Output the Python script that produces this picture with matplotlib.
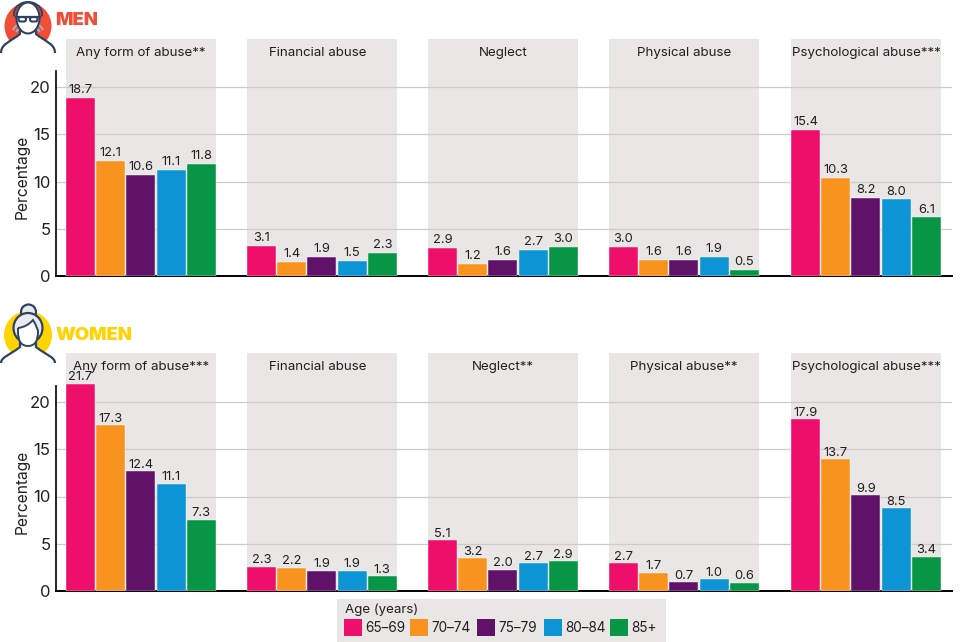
import matplotlib
matplotlib.use('Agg')
import matplotlib.pyplot as plt
from matplotlib.patches import Circle, Rectangle, FancyBboxPatch, Ellipse, Arc, PathPatch
from matplotlib.path import Path

plt.rcParams['font.family'] = ['Inter', 'DejaVu Sans']

ages = ['65–69', '70–74', '75–79', '80–84', '85+']
colors = ['#EE0F6B', '#F8931F', '#5F1268', '#0C94D4', '#079645']
men_titles = ['Any form of abuse**', 'Financial abuse', 'Neglect', 'Physical abuse', 'Psychological abuse***']
women_titles = ['Any form of abuse***', 'Financial abuse', 'Neglect**', 'Physical abuse**', 'Psychological abuse***']
men_vals = [[18.7, 12.1, 10.6, 11.1, 11.8],
            [3.1, 1.4, 1.9, 1.5, 2.3],
            [2.9, 1.2, 1.6, 2.7, 3.0],
            [3.0, 1.6, 1.6, 1.9, 0.5],
            [15.4, 10.3, 8.2, 8.0, 6.1]]
women_vals = [[21.7, 17.3, 12.4, 11.1, 7.3],
              [2.3, 2.2, 1.9, 1.9, 1.3],
              [5.1, 3.2, 2.0, 2.7, 2.9],
              [2.7, 1.7, 0.7, 1.0, 0.6],
              [17.9, 13.7, 9.9, 8.5, 3.4]]

W, H = 962, 642
GREY = '#E8E7E6'
NAVY = '#2F4260'
TXT = '#231F20'
starts = [66, 247, 428, 609, 791]
title_x = [75, 71, 75, 75, 75]
pitch = 30.2
ppu = 9.45

fig = plt.figure(figsize=(W / 100, H / 100), dpi=100)


def panel(titles, vals, y0, top, lift):
    # axes run in screen pixels on x so the panel bands line up
    ax = fig.add_axes([56 / W, (642 - y0) / H, (952 - 56) / W, (y0 - top) / H])
    ax.set_xlim(56, 952)
    ax.set_ylim(0, (y0 - top) / ppu)
    for s, dx, t, v in zip(starts, title_x, titles, vals):
        ax.axvspan(s, s + 150.5, color=GREY, lw=0, zorder=0)
        ax.text(s + dx, (y0 - top - 14) / ppu, t, ha='center', va='center',
                fontsize=9.6, color=TXT, zorder=5)
        for i, val in enumerate(v):
            x = s + i * pitch
            ax.bar(x, val + lift, width=29, align='edge', color=colors[i], zorder=3,
                   edgecolor='white', linewidth=0.3)
            ax.text(x + 14.5, val + 0.3, f'{val:.1f}', ha='center', va='bottom',
                    fontsize=9.3, color=TXT, zorder=5)
    ax.set_yticks([0, 5, 10, 15, 20])
    ax.set_yticklabels(['0', '5', '10', '15', '20'], fontsize=12, color=TXT)
    ax.set_xticks([])
    for y in [5, 10, 15, 20]:
        ax.axhline(y, color='#CDCCCA', lw=0.9, zorder=1)
    ax.tick_params(axis='y', length=0, pad=4)
    ax.patch.set_alpha(0)
    for sp in ['top', 'right']:
        ax.spines[sp].set_visible(False)
    ax.spines['left'].set_linewidth(1.2)
    ax.spines['left'].set_bounds(0, 21.7)
    ax.spines['bottom'].set_linewidth(1.4)
    ax.set_ylabel('Percentage', fontsize=11.2, color=TXT)
    ax.yaxis.set_label_coords(-0.0295, 99 / (y0 - top))
    return ax


panel(men_titles, men_vals, 276, 39, 0.1)
panel(women_titles, women_vals, 591, 353, 0.25)

# overlay in pixel coordinates for icons, headings, legend
ov = fig.add_axes([0, 0, 1, 1], zorder=10)
ov.set_xlim(0, W)
ov.set_ylim(H, 0)
ov.axis('off')


def bust(neck_top, shoulder, bottom):
    # white body with neck, hides the lower part of the disc
    p = Path([(1, bottom), (1, shoulder), (10, shoulder - 2), (20, neck_top + 4),
              (20, neck_top), (36, neck_top), (36, neck_top + 4),
              (46, shoulder - 2), (55, shoulder), (55, bottom)],
             [Path.MOVETO, Path.CURVE4, Path.CURVE4, Path.CURVE4,
              Path.LINETO, Path.LINETO, Path.LINETO,
              Path.CURVE4, Path.CURVE4, Path.CURVE4])
    ov.add_patch(PathPatch(p, fc='white', ec='none', zorder=2))
    ov.add_patch(Rectangle((1, bottom - 3), 54, 8, fc='white', ec='none', zorder=2))
    ov.add_patch(PathPatch(p, fc='none', ec=NAVY, lw=1.6, zorder=3))


# man
ov.add_patch(Circle((28, 26), 23.5, fc='#F04E37', ec='none', zorder=1))
bust(30, 44, 53)
ov.add_patch(Arc((28, 34), 24, 16, theta1=10, theta2=170, angle=180, ec='#A9AFBB', lw=1.5, zorder=4))
ov.add_patch(Arc((28, 34), 32, 24, theta1=15, theta2=165, angle=180, ec='#A9AFBB', lw=1.5, zorder=4))
ov.add_patch(Ellipse((28, 18), 23, 31, fc='white', ec=NAVY, lw=1.5, zorder=5))
ov.add_patch(Arc((28, 14), 28, 24, theta1=170, theta2=370, ec=NAVY, lw=1.4, zorder=4))
for gx in [18.5, 30]:
    ov.add_patch(FancyBboxPatch((gx, 17), 7.5, 4.5, boxstyle='round,pad=0,rounding_size=2',
                                fc='white', ec=NAVY, lw=1.5, zorder=6))
ov.plot([16, 40], [16.5, 16.5], color=NAVY, lw=1.6, zorder=6)
ov.text(55.5, 20.5, 'MEN', color='#F04E37', fontsize=13.2, fontweight='black', va='center', ha='left')

# woman
ov.add_patch(Circle((28, 335), 24, fc='#FFD400', ec='none', zorder=1))
bust(343, 357, 363)
ov.add_patch(Circle((28.5, 312), 7.5, fc='#E8EAEE', ec=NAVY, lw=1.6, zorder=2))
ov.add_patch(Ellipse((28, 328), 29, 30, fc='#E8EAEE', ec=NAVY, lw=1.6, zorder=3))
face = Path([(18, 328), (27, 327), (33, 320), (38, 328), (38, 332),
             (38, 346), (28, 346), (18, 346), (18, 332), (18, 328)],
            [Path.MOVETO, Path.CURVE3, Path.CURVE3, Path.CURVE3, Path.LINETO,
             Path.CURVE3, Path.CURVE3, Path.CURVE3, Path.CURVE3, Path.LINETO])
ov.add_patch(PathPatch(face, fc='white', ec=NAVY, lw=1.4, zorder=4))
ov.text(55.5, 335, 'WOMEN', color='#FFD400', fontsize=13.2, fontweight='black', va='center', ha='left')

# legend
ov.add_patch(Rectangle((337, 599), 329, 43, fc=GREY, ec='none', zorder=1))
ov.text(345, 609.5, 'Age (years)', fontsize=9.6, color=TXT, va='center', ha='left')
leg_x = [344, 410.5, 477, 544, 610]
for lx, c, a in zip(leg_x, colors, ages):
    ov.add_patch(Rectangle((lx, 619), 18, 17, fc=c, ec='none', zorder=2))
    ov.text(lx + 21, 628, a, fontsize=9.8, color=TXT, va='center', ha='left')

fig.savefig('out.png', dpi=100)
